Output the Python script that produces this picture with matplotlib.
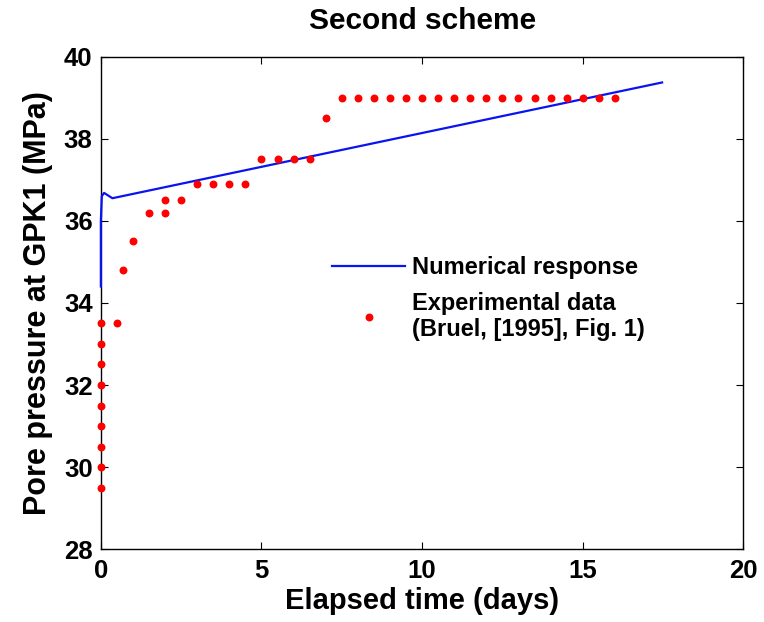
import matplotlib.pyplot as plt

plt.rcParams['font.family'] = ['Liberation Sans', 'DejaVu Sans']
plt.rcParams['font.weight'] = 'bold'

# numerical response (blue line)
num_time = [0.0, 0.0, 0.03, 0.1, 0.36, 17.47]
num_pressure = [34.4, 36.0, 36.6, 36.68, 36.55, 39.37]

# experimental data (red dots), Bruel 1995
exp_time = [0, 0, 0, 0, 0, 0, 0, 0, 0,
            0.5, 0.7, 1.0, 1.5, 2.0, 2.0, 2.5,
            3.0, 3.5, 4.0, 4.5, 5.0, 5.5, 6.0, 6.5, 7.0,
            7.5, 8.0, 8.5, 9.0, 9.5, 10.0, 10.5, 11.0, 11.5,
            12.0, 12.5, 13.0, 13.5, 14.0, 14.5, 15.0, 15.5, 16.0]
exp_pressure = [29.5, 30.0, 30.5, 31.0, 31.5, 32.0, 32.5, 33.0, 33.5,
                33.5, 34.8, 35.5, 36.2, 36.2, 36.5, 36.5,
                36.9, 36.9, 36.9, 36.9, 37.5, 37.5, 37.5, 37.5, 38.5,
                39, 39, 39, 39, 39, 39, 39, 39, 39,
                39, 39, 39, 39, 39, 39, 39, 39, 39]

fig = plt.figure(figsize=(7.64, 6.22), dpi=100)
ax = fig.add_axes([0.132, 0.117, 0.841, 0.792])

ax.plot(num_time, num_pressure, color='#0a14f0', lw=1.6, label='Numerical response',
        clip_on=False, zorder=3)
ax.plot(exp_time, exp_pressure, 'o', color='red', ms=5.7, mec='none',
        label='Experimental data\n(Bruel, [1995], Fig. 1)', clip_on=False, zorder=4)

ax.set_xlim(0, 20)
ax.set_ylim(28, 40)
ax.set_xticks([0, 5, 10, 15, 20])
ax.set_yticks([28, 30, 32, 34, 36, 38, 40])
ax.tick_params(direction='in', top=True, right=True, length=5, labelsize=18.5)
ax.tick_params(axis='x', pad=7)
ax.tick_params(axis='y', pad=6)
for s in ax.spines.values():
    s.set_linewidth(1.0)

ax.set_xlabel('Elapsed time (days)', fontsize=21, fontweight='bold', labelpad=3)
ax.set_ylabel('Pore pressure at GPK1 (MPa)', fontsize=22, fontweight='bold', labelpad=8)
ax.set_title('Second scheme', fontsize=21.5, fontweight='bold', pad=20)

leg = ax.legend(loc='center left', bbox_to_anchor=(0.36, 0.509), frameon=False,
                fontsize=17, handlelength=3.1, handletextpad=0.3, labelspacing=0.55,
                borderpad=0, borderaxespad=0)
for t in leg.get_texts():
    t.set_linespacing(1.15)

fig.savefig('out.png', dpi=100)
